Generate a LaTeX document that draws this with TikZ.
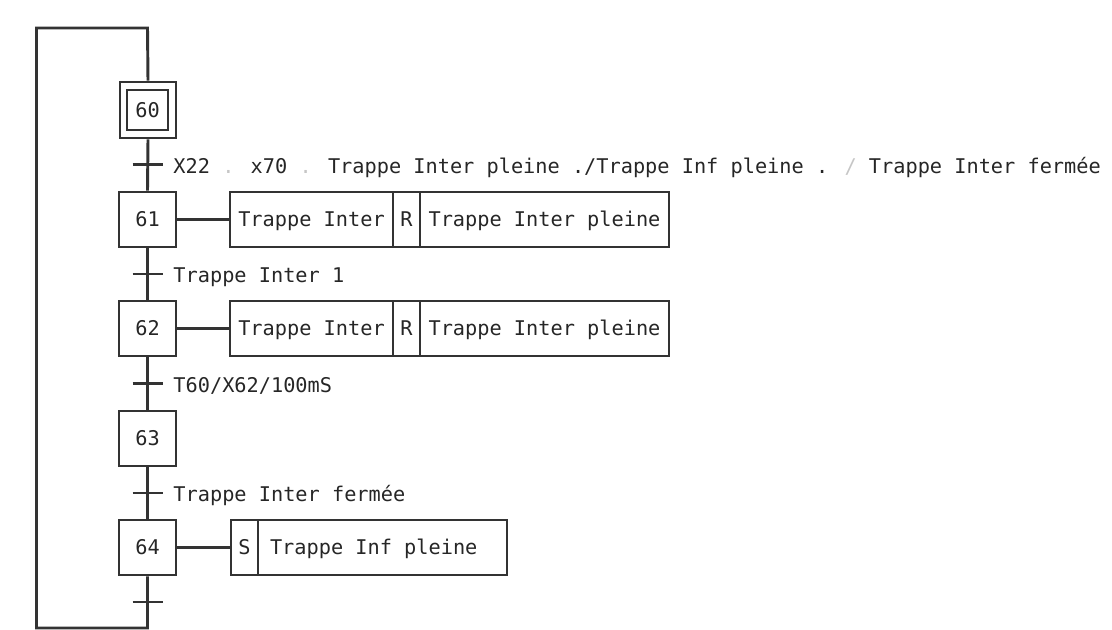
\documentclass[tikz,border=0pt]{standalone}
\usepackage{fontspec}
\newfontfamily\cadfont{DejaVu Sans Mono}
\begin{document}
\begin{tikzpicture}[x=0.75pt,y=-0.75pt,line width=2.2pt,draw=black!80,
  every node/.style={font=\cadfont\fontsize{15.2}{18}\selectfont,text=black!85},
  stepbox/.style={draw,minimum width=42.75pt,minimum height=41.25pt,inner sep=0pt,text height=11pt,text depth=0pt},
  initouter/.style={draw,minimum width=42pt,minimum height=42pt,inner sep=0pt},
  initinner/.style={draw,minimum width=30.75pt,minimum height=30pt,inner sep=0pt,text height=11pt,text depth=0pt},
  actcell/.style={draw,minimum height=41.25pt,inner sep=0pt,outer sep=0pt,anchor=west,text height=11pt,text depth=0pt},
  trtick/.style={line width=2.2pt},
  trlabel/.style={anchor=base west,inner sep=0pt}]
\useasboundingbox (0,0) rectangle (1112,629);
% loop coordinates
\coordinate (top) at (147.5,28);
\coordinate (topleft) at (36.5,28);
\coordinate (botleft) at (36.5,628);
\coordinate (bot) at (147.5,628);
% steps
\node[initouter] (s60) at (148,110) {};
\node[initinner] (s60i) at (147.5,110) {60};
\node[stepbox] (s61) at (147.5,219.5) {61};
\node[stepbox] (s62) at (147.5,328.5) {62};
\node[stepbox] (s63) at (147.5,438.5) {63};
\node[stepbox] (s64) at (147.5,547.5) {64};
% vertical links
\draw (s60.south) -- (s61.north);
\draw (s61.south) -- (s62.north);
\draw (s62.south) -- (s63.north);
\draw (s63.south) -- (s64.north);
\draw (s64.south) -- (bot) -- (botleft) -- (topleft) -- (top) -- (s60.north);
% transitions
\coordinate (c1) at (147.5,164.5);
\coordinate (c2) at (147.5,274);
\coordinate (c3) at (147.5,383.5);
\coordinate (c4) at (147.5,493);
\coordinate (c5) at (147.5,602);
\foreach \c in {c1,c2,c3,c4,c5}{
  \draw[trtick] ([xshift=-11.25pt]\c) -- ([xshift=11.25pt]\c);
}
\node[trlabel] (l1) at (172,173) {X22 \textcolor{gray!45}{.} x70 \textcolor{gray!45}{.} Trappe Inter pleine ./Trappe Inf pleine . \textcolor{gray!45}{/} Trappe Inter fermée};
\node[trlabel] (l2) at (172,282.5) {Trappe Inter 1};
\node[trlabel] (l3) at (172,392) {T60/X62/100mS};
\node[trlabel] (l4) at (172,501.5) {Trappe Inter fermée};
% actions 61
\node[actcell,minimum width=122.25pt] (a61) at (230,219.5) {Trappe Inter};
\node[actcell,minimum width=20.25pt] (r61) at (a61.east) {R};
\node[actcell,minimum width=186.75pt] (t61) at (r61.east) {Trappe Inter pleine};
\draw (s61.east) -- (a61.west);
% actions 62
\node[actcell,minimum width=122.25pt] (a62) at (230,328.5) {Trappe Inter};
\node[actcell,minimum width=20.25pt] (r62) at (a62.east) {R};
\node[actcell,minimum width=186.75pt] (t62) at (r62.east) {Trappe Inter pleine};
\draw (s62.east) -- (a62.west);
% actions 64
\node[actcell,minimum width=20.25pt] (a64) at (231,547.5) {S};
\node[actcell,minimum width=186.75pt,inner xsep=9pt] (t64) at (a64.east) {\makebox[168.75pt][l]{Trappe Inf pleine}};
\draw (s64.east) -- (a64.west);
\end{tikzpicture}
\end{document}
